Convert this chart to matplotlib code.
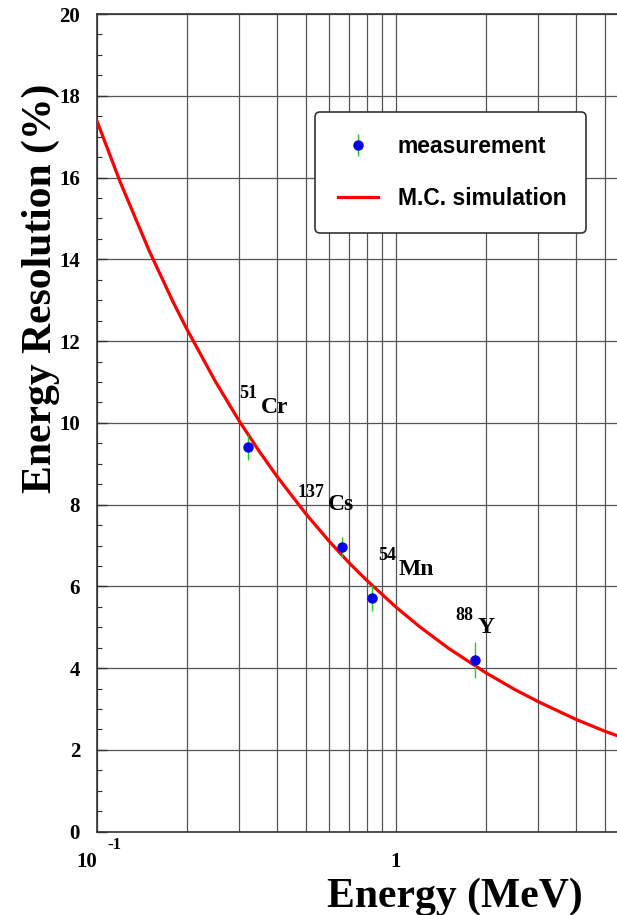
import numpy as np
import matplotlib
matplotlib.use("Agg")
import matplotlib.pyplot as plt
from matplotlib.ticker import FixedLocator, MultipleLocator, NullFormatter

# measured sources: energy (MeV), resolution (%), error (%)
isotopes = ["Cr", "Cs", "Mn", "Y"]
mass_numbers = ["51", "137", "54", "88"]
energy = np.array([0.320, 0.662, 0.835, 1.836])
resolution = np.array([9.40, 6.97, 5.71, 4.20])
res_err = np.array([0.30, 0.25, 0.32, 0.45])

mc_energy = np.array([0.10, 0.12, 0.15, 0.18, 0.20, 0.25, 0.30, 0.35, 0.40, 0.50,
                      0.60, 0.70, 0.80, 1.00, 1.20, 1.50, 2.00, 2.50, 3.00, 4.00,
                      5.00, 5.50])
mc_resolution = np.array([17.40, 15.88, 14.20, 12.96, 12.30, 11.00, 10.04, 9.30, 8.70, 7.78,
                          7.10, 6.57, 6.15, 5.50, 5.02, 4.49, 3.89, 3.48, 3.18, 2.75,
                          2.46, 2.35])

# label offsets in pixels: (mass dx, mass dy, symbol dx, symbol dy)
label_offsets = [(-9, 49, 13, 34), (-45, 50, -14, 37), (6, 38, 26, 23), (-19, 40, 3, 27)]

serif = "Liberation Serif"
sans = "Liberation Sans"

fig = plt.figure(figsize=(6.17, 9.15), dpi=100)
ax = fig.add_axes([96.7 / 617, 1 - 831.7 / 915, 1 - 96.7 / 617, (831.7 - 14) / 915])

ax.set_xscale("log")
ax.set_xlim(0.1, 5.5)
ax.set_ylim(0, 20)

ax.plot(mc_energy, mc_resolution, color="red", lw=2.3, label="M.C. simulation", zorder=3)
ax.errorbar(energy, resolution, yerr=res_err, fmt="o", color="#0000e6", ms=6.5,
            ecolor="#22cc22", elinewidth=1.0, capsize=0, label="measurement", zorder=4)

for i in range(len(isotopes)):
    mdx, mdy, sdx, sdy = label_offsets[i]
    ax.annotate(mass_numbers[i], (energy[i], resolution[i]), xytext=(mdx, mdy),
                textcoords="offset pixels", fontsize=13, family=serif, weight="bold",
                ha="left", va="baseline")
    ax.annotate(isotopes[i], (energy[i], resolution[i]), xytext=(sdx, sdy),
                textcoords="offset pixels", fontsize=17, family=serif, weight="bold",
                ha="left", va="baseline")

# axes, ticks and grid
ax.yaxis.set_major_locator(MultipleLocator(2))
ax.yaxis.set_minor_locator(MultipleLocator(0.5))
ax.xaxis.set_major_locator(FixedLocator([0.1, 1]))
ax.xaxis.set_minor_locator(FixedLocator([0.2, 0.3, 0.4, 0.5, 0.6, 0.7, 0.8, 0.9, 2, 3, 4, 5]))
ax.xaxis.set_major_formatter(NullFormatter())
ax.xaxis.set_minor_formatter(NullFormatter())
ax.tick_params(axis="y", which="major", direction="in", length=7.2, width=1.0,
               pad=12, labelsize=15, colors="#333333", labelcolor="black")
ax.tick_params(axis="y", which="minor", direction="in", length=3.6, width=0.8, colors="#333333")
ax.tick_params(axis="x", which="both", direction="in", length=0)
for lab in ax.get_yticklabels():
    lab.set_family(serif)
    lab.set_weight("bold")

ax.grid(True, which="both", axis="x", color="#555555", lw=0.9)
ax.grid(True, which="major", axis="y", color="#555555", lw=0.9)
ax.set_axisbelow(True)

ax.spines["right"].set_visible(False)
for s in ["left", "bottom", "top"]:
    ax.spines[s].set_color("#333333")
    ax.spines[s].set_linewidth(1.2)

# x tick labels, 10^-1 drawn as base and exponent
ax.annotate("10", (0.1, 0), xycoords=("data", "axes fraction"), xytext=(0, -35),
            textcoords="offset pixels", ha="right", va="baseline",
            fontsize=15, family=serif, weight="bold")
ax.annotate("-1", (0.1, 0), xycoords=("data", "axes fraction"), xytext=(11, -17),
            textcoords="offset pixels", ha="left", va="baseline",
            fontsize=12, family=serif, weight="bold")
ax.annotate("1", (1, 0), xycoords=("data", "axes fraction"), xytext=(0, -35),
            textcoords="offset pixels", ha="center", va="baseline",
            fontsize=15, family=serif, weight="bold")

ax.set_xlabel("Energy (MeV)", fontsize=30, family=serif, weight="bold", va="baseline")
ax.xaxis.set_label_coords((455 - 96.7) / 520.3, -(907 - 831.7) / 817.7)
ax.set_ylabel("Energy Resolution (%)", fontsize=30, family=serif, weight="bold",
              va="center", ha="center")
ax.yaxis.set_label_coords((41 - 96.7) / 520.3, 1 - (288 - 14) / 817.7)

handles, labels = ax.get_legend_handles_labels()
leg = ax.legend(handles[::-1], labels[::-1], loc="upper left",
                bbox_to_anchor=(0.4196, 0.7273, 0.5208, 0.1527), mode="expand",
                borderaxespad=0, borderpad=1.0, labelspacing=1.25,
                handlelength=1.75, handletextpad=0.85, fancybox=True,
                framealpha=1, edgecolor="#333333",
                prop={"family": sans, "weight": "bold", "size": 16.5})
leg.get_frame().set_linewidth(1.2)

fig.savefig("out.png", dpi=100)
